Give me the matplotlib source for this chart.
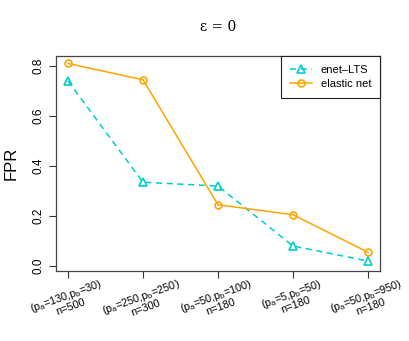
import matplotlib
matplotlib.use('Agg')
import matplotlib.pyplot as plt

plt.rcParams['font.family'] = ['Liberation Sans', 'DejaVu Sans']
plt.rcParams['mathtext.fontset'] = 'custom'
plt.rcParams['mathtext.rm'] = 'Liberation Sans'
plt.rcParams['mathtext.it'] = 'Liberation Sans'

# Settings on the x axis
SETTINGS = [
    '(p$_a$=130,p$_b$=30)\nn=500',
    '(p$_a$=250,p$_b$=250)\nn=300',
    '(p$_a$=50,p$_b$=100)\nn=180',
    '(p$_a$=5,p$_b$=50)\nn=180',
    '(p$_a$=50,p$_b$=950)\nn=180',
]

# FPR values
ENET_LTS = [0.74, 0.335, 0.32, 0.08, 0.02]
ELASTIC_NET = [0.81, 0.745, 0.245, 0.205, 0.055]

Y_TICKS = [0.0, 0.2, 0.4, 0.6, 0.8]

CYAN = '#00CDCD'
ORANGE = '#FFA500'

fig = plt.figure(figsize=(4.09, 3.41), dpi=100)
ax = fig.add_axes([56 / 409, 1 - 271 / 341, (380 - 56) / 409, (271 - 56) / 341])

x = list(range(1, len(SETTINGS) + 1))

ax.plot(x, ENET_LTS, color=CYAN, linestyle=(0, (4, 3)), linewidth=1.1,
        marker='^', markersize=6, markerfacecolor='none', markeredgewidth=1.2,
        label='enet\u2013LTS')
ax.plot(x, ELASTIC_NET, color=ORANGE, linestyle='-', linewidth=1.1,
        marker='o', markersize=5, markerfacecolor='none', markeredgewidth=1.2,
        label='elastic net')

ax.set_xlim(0.84, 5.16)
ax.set_ylim(-0.02, 0.84)

ax.set_xticks(x)
ax.set_xticklabels(SETTINGS, rotation=20, ha='center', va='top',
                   fontsize=7.8, linespacing=1.0)
ax.set_yticks(Y_TICKS)
ax.set_yticklabels([f'{v:.1f}' for v in Y_TICKS], rotation=90, va='center',
                   fontsize=8.5)
ax.tick_params(axis='both', length=5, width=0.8, color='#333333')
ax.tick_params(axis='x', pad=-1)
ax.tick_params(axis='y', pad=3)

for spine in ax.spines.values():
    spine.set_color('#444444')
    spine.set_linewidth(0.9)

ax.set_ylabel('FPR', fontsize=12, labelpad=10)
fig.text(218 / 409, 1 - 27 / 341, '\u03b5 = 0', ha='center', va='center',
         fontsize=10, family=['DejaVu Serif'])

leg = ax.legend(loc='upper right', borderaxespad=0, fontsize=8,
                fancybox=False, framealpha=1, edgecolor='#222222',
                handlelength=2.0, borderpad=0.8, labelspacing=0.35,
                handletextpad=0.8)
leg.get_frame().set_linewidth(0.8)

fig.savefig('out.png', dpi=100)
